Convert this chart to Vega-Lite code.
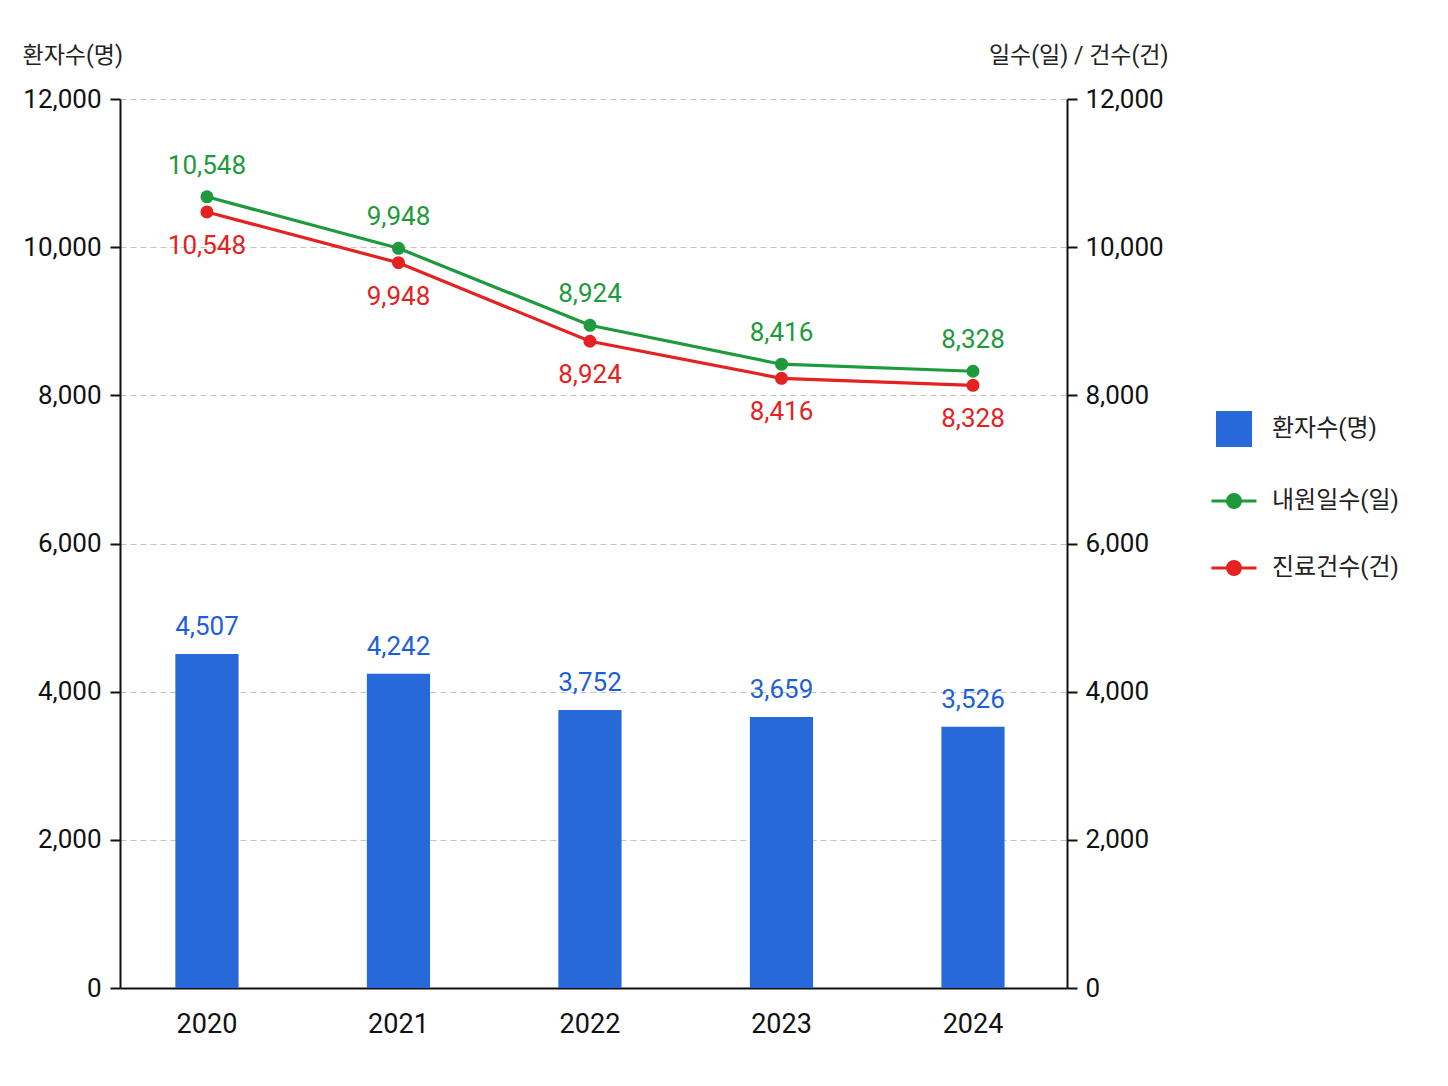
{
  "$schema": "https://vega.github.io/schema/vega-lite/v6.json",
  "width": 947,
  "height": 889,
  "autosize": {"type": "none"},
  "padding": {"left": 120, "top": 99, "right": 381, "bottom": 98},
  "background": "white",
  "config": {
    "font": "Roboto, Noto Sans CJK KR, sans-serif",
    "view": {"stroke": null},
    "axis": {
      "domainColor": "#111111",
      "domainWidth": 2,
      "tickColor": "#111111",
      "tickWidth": 2,
      "labelColor": "#111111",
      "labelFont": "Roboto, Noto Sans CJK KR, sans-serif",
      "titleFont": "Roboto, Noto Sans CJK KR, sans-serif",
      "titleColor": "#222222",
      "titleFontWeight": "normal"
    }
  },
  "datasets": {
    "patients": [
      {"year": "2020", "series": "환자수(명)", "value": 4507},
      {"year": "2021", "series": "환자수(명)", "value": 4242},
      {"year": "2022", "series": "환자수(명)", "value": 3752},
      {"year": "2023", "series": "환자수(명)", "value": 3659},
      {"year": "2024", "series": "환자수(명)", "value": 3526}
    ],
    "lines": [
      {"year": "2020", "series": "내원일수(일)", "value": 10548, "pos": 10680},
      {"year": "2021", "series": "내원일수(일)", "value": 9948, "pos": 9985},
      {"year": "2022", "series": "내원일수(일)", "value": 8924, "pos": 8945},
      {"year": "2023", "series": "내원일수(일)", "value": 8416, "pos": 8420},
      {"year": "2024", "series": "내원일수(일)", "value": 8328, "pos": 8325},
      {"year": "2020", "series": "진료건수(건)", "value": 10548, "pos": 10475},
      {"year": "2021", "series": "진료건수(건)", "value": 9948, "pos": 9790},
      {"year": "2022", "series": "진료건수(건)", "value": 8924, "pos": 8730},
      {"year": "2023", "series": "진료건수(건)", "value": 8416, "pos": 8230},
      {"year": "2024", "series": "진료건수(건)", "value": 8328, "pos": 8135}
    ]
  },
  "encoding": {
    "x": {
      "field": "year",
      "type": "nominal",
      "scale": {"paddingInner": 0.67, "paddingOuter": 0.3075, "align": 0.47},
      "axis": {
        "title": null,
        "labelAngle": 0,
        "labelFontSize": 27,
        "ticks": false,
        "tickSize": 0,
        "labelPadding": 23
      }
    }
  },
  "layer": [
    {
      "data": {"name": "patients"},
      "encoding": {
        "y": {
          "field": "value",
          "type": "quantitative",
          "scale": {"domain": [0, 12000], "nice": false},
          "axis": {
            "orient": "left",
            "values": [0, 2000, 4000, 6000, 8000, 10000, 12000],
            "format": ",d",
            "labelFontSize": 26,
            "labelPadding": 9,
            "tickSize": 10,
            "grid": true,
            "gridColor": "#c4c4c4",
            "gridDash": [6, 4],
            "gridWidth": 1.2,
            "title": "환자수(명)",
            "titleAngle": 0,
            "titleAlign": "left",
            "titleBaseline": "middle",
            "titleX": -98,
            "titleY": -44,
            "titleFontSize": 23
          }
        }
      },
      "layer": [
        {
          "mark": {"type": "bar"},
          "encoding": {
            "color": {
              "field": "series",
              "type": "nominal",
              "scale": {
                "domain": ["환자수(명)", "내원일수(일)", "진료건수(건)"],
                "range": ["#2769D9", "#1E9A3C", "#E32222"]
              },
              "legend": {
                "title": null,
                "orient": "none",
                "legendX": 1102,
                "legendY": 318,
                "direction": "vertical",
                "symbolSize": 1296,
                "labelFontSize": 24,
                "labelColor": "#222222",
                "labelOffset": 26,
                "rowPadding": 41,
                "encode": {
                  "symbols": {
                    "update": {
                      "shape": {"signal": "datum.label === '환자수(명)' ? 'square' : 'M-1.25,0H1.25M-0.36,0A0.36,0.36,0,1,0,0.36,0A0.36,0.36,0,1,0,-0.36,0Z'"},
                      "fill": {"signal": "scale('color', datum.value)"},
                      "stroke": {"signal": "scale('color', datum.value)"},
                      "strokeWidth": {"signal": "datum.label === '환자수(명)' ? 0 : 3"},
                      "opacity": {"value": 1},
                      "fillOpacity": {"value": 1}
                    }
                  }
                }
              }
            }
          }
        },
        {
          "mark": {
            "type": "text",
            "baseline": "alphabetic",
            "dy": -19,
            "fontSize": 26,
            "color": "#1E5FD8"
          },
          "encoding": {
            "text": {"field": "value", "type": "quantitative", "format": ","}
          }
        }
      ]
    },
    {
      "data": {"name": "lines"},
      "encoding": {
        "y": {
          "field": "pos",
          "type": "quantitative",
          "scale": {"domain": [0, 12000], "nice": false},
          "axis": {
            "orient": "right",
            "values": [0, 2000, 4000, 6000, 8000, 10000, 12000],
            "format": ",d",
            "labelFontSize": 26,
            "labelPadding": 8,
            "tickSize": 10,
            "grid": false,
            "title": "일수(일) / 건수(건)",
            "titleAngle": 0,
            "titleAlign": "right",
            "titleBaseline": "middle",
            "titleX": 101,
            "titleY": -44,
            "titleFontSize": 23
          }
        }
      },
      "layer": [
        {
          "mark": {
            "type": "line",
            "strokeWidth": 3.2,
            "point": {"filled": true, "size": 170, "opacity": 1}
          },
          "encoding": {
            "color": {
              "field": "series",
              "type": "nominal",
              "scale": {
                "domain": ["환자수(명)", "내원일수(일)", "진료건수(건)"],
                "range": ["#2769D9", "#1E9A3C", "#E32222"]
              }
            }
          }
        },
        {
          "transform": [{"filter": "datum.series === '내원일수(일)'"}],
          "mark": {
            "type": "text",
            "baseline": "alphabetic",
            "dy": -23,
            "fontSize": 26,
            "color": "#1E9A3C"
          },
          "encoding": {
            "text": {"field": "value", "type": "quantitative", "format": ","}
          }
        },
        {
          "transform": [{"filter": "datum.series === '진료건수(건)'"}],
          "mark": {
            "type": "text",
            "baseline": "alphabetic",
            "dy": 42,
            "fontSize": 26,
            "color": "#E32222"
          },
          "encoding": {
            "text": {"field": "value", "type": "quantitative", "format": ","}
          }
        }
      ]
    }
  ],
  "resolve": {"scale": {"y": "independent"}}
}
